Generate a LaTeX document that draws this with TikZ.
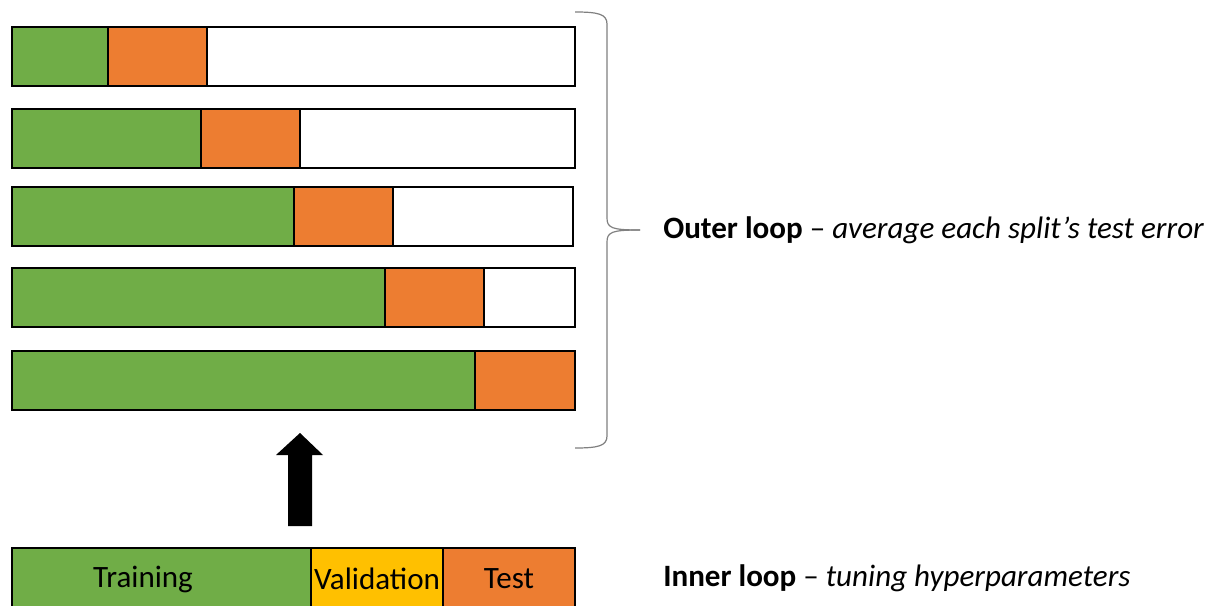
\documentclass[tikz,border=0pt]{standalone}
\usepackage{fontspec}
\setmainfont{Carlito}
\definecolor{cvgreen}{HTML}{70AD47}
\definecolor{cvorange}{HTML}{ED7D31}
\definecolor{cvyellow}{HTML}{FFC000}
\definecolor{bracegray}{HTML}{808080}
\tikzset{
  seg/.style={draw=black, line width=1.3pt},
  lbl/.style={font=\fontsize{23.3}{28}\selectfont, inner sep=0pt, text=black},
  bracestyle/.style={draw=bracegray, line width=0.9pt},
}
\begin{document}
\begin{tikzpicture}[x=0.75pt,y=-0.75pt]
\useasboundingbox (0,0) rectangle (1207,606);
\clip (0,0) rectangle (1207,606);
% outer splits
\foreach \t/\g/\o/\r in {27/108/207/575, 109/201/300/575, 187/294/393/573, 268/385/484/575}{
  \path[seg, fill=cvgreen] (12,\t) rectangle (\g,\t+59);
  \path[seg, fill=cvorange] (\g,\t) rectangle (\o,\t+59);
  \path[seg, fill=white] (\o,\t) rectangle (\r,\t+59);
}
\path[seg, fill=cvgreen] (12,351) rectangle (475,410);
\path[seg, fill=cvorange] (475,351) rectangle (575,410);
% inner split
\path[seg, fill=cvgreen] (12,548) rectangle (311,608);
\path[seg, fill=cvyellow] (311,548) rectangle (443,608);
\path[seg, fill=cvorange] (443,548) rectangle (575,608);
\node[lbl] (train) at (143,579) {Training};
\node[lbl] (valid) at (377,579) {Validation};
\node[lbl] (test) at (509,579) {Test};
% block arrow
\coordinate (tip) at (300,433);
\fill[black] (288,526) -- (288,455) -- (276,455) -- (tip) -- (323,455) -- (312,455) -- (312,526) -- cycle;
% brace
\coordinate (btop) at (575,12);
\coordinate (bbot) at (575,448);
\coordinate (bmid) at (640,230);
\draw[bracestyle] (btop) .. controls (598,12) and (607,14) .. (607,24)
  -- (607,218) .. controls (607,228) and (612,230) .. (bmid);
\draw[bracestyle] (bbot) .. controls (598,448) and (607,446) .. (607,436)
  -- (607,242) .. controls (607,232) and (612,230) .. (bmid);
% labels
\node[lbl, anchor=west] (outer) at (663,230) {\textbf{Outer loop} -- \textit{average each split’s test error}};
\node[lbl, anchor=west] (inner) at (663,578) {\textbf{Inner loop} -- \textit{tuning hyperparameters}};
\end{tikzpicture}
\end{document}
